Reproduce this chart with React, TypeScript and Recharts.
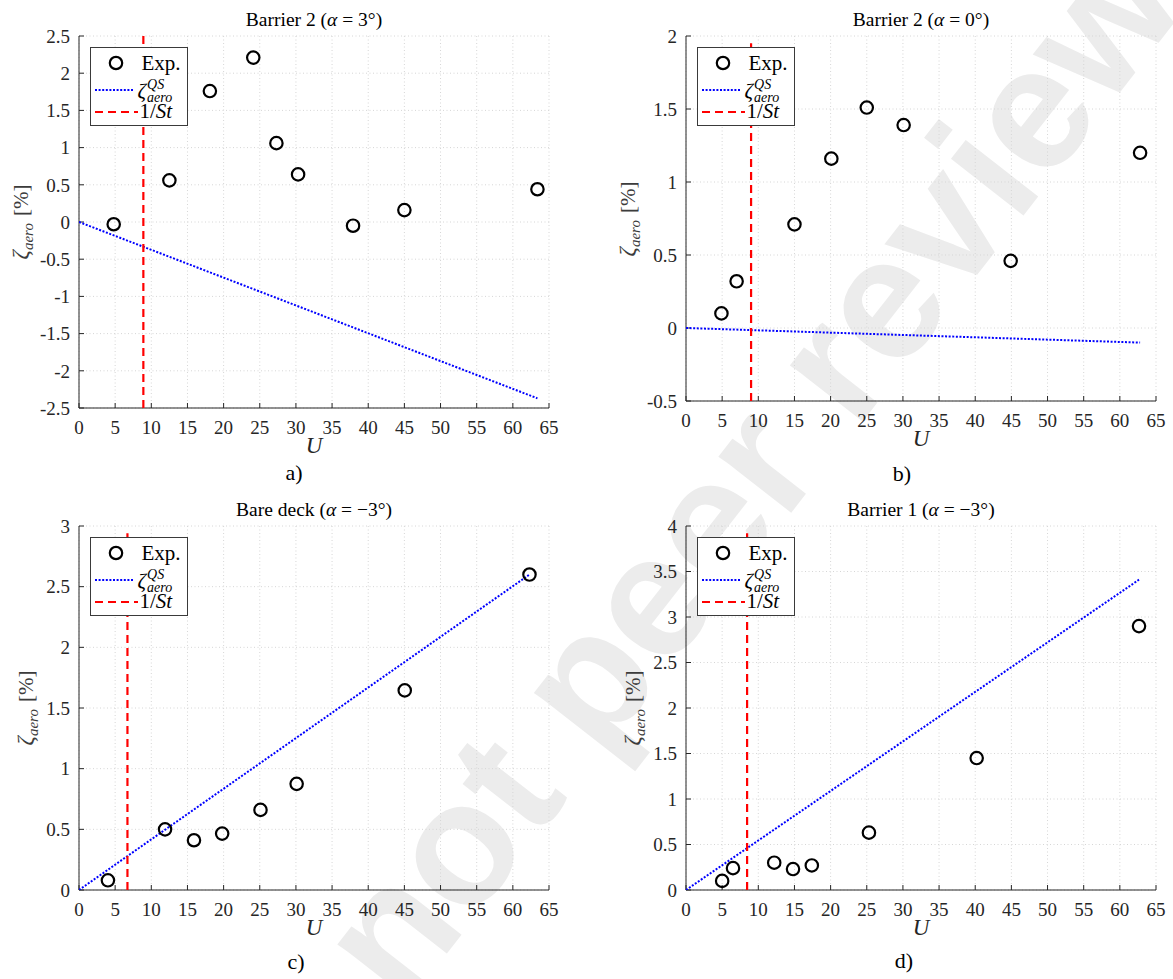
import React from 'react';
import { ScatterChart, Scatter, XAxis, YAxis, CartesianGrid } from 'recharts';

type Pt = { x: number; y: number };

// ---------- DATA ----------
const xTicks = [0, 5, 10, 15, 20, 25, 30, 35, 40, 45, 50, 55, 60, 65];

// a) Barrier 2 (alpha = 3deg)
const expA: Pt[] = [
  { x: 4.8, y: -0.03 }, { x: 12.5, y: 0.56 }, { x: 18.1, y: 1.76 }, { x: 24.1, y: 2.21 },
  { x: 27.3, y: 1.06 }, { x: 30.3, y: 0.64 }, { x: 37.9, y: -0.05 }, { x: 45.0, y: 0.16 },
  { x: 63.4, y: 0.44 },
];
const qsA: Pt[] = [{ x: 0, y: 0 }, { x: 63.4, y: -2.37 }];
const stA: Pt[] = [{ x: 8.9, y: -2.5 }, { x: 8.9, y: 2.5 }];
const yTicksA = [-2.5, -2, -1.5, -1, -0.5, 0, 0.5, 1, 1.5, 2, 2.5];

// b) Barrier 2 (alpha = 0deg)
const expB: Pt[] = [
  { x: 4.9, y: 0.1 }, { x: 7.0, y: 0.32 }, { x: 15.0, y: 0.71 }, { x: 20.1, y: 1.16 },
  { x: 25.0, y: 1.51 }, { x: 30.1, y: 1.39 }, { x: 44.9, y: 0.46 }, { x: 62.8, y: 1.2 },
];
const qsB: Pt[] = [{ x: 0, y: 0 }, { x: 62.8, y: -0.1 }];
const stB: Pt[] = [{ x: 9.0, y: -0.5 }, { x: 9.0, y: 1.95 }];
const yTicksB = [-0.5, 0, 0.5, 1, 1.5, 2];

// c) Bare deck (alpha = -3deg)
const expC: Pt[] = [
  { x: 4.0, y: 0.08 }, { x: 11.9, y: 0.5 }, { x: 15.9, y: 0.41 }, { x: 19.8, y: 0.465 },
  { x: 25.1, y: 0.66 }, { x: 30.1, y: 0.875 }, { x: 45.05, y: 1.645 }, { x: 62.3, y: 2.6 },
];
const qsC: Pt[] = [{ x: 0, y: 0 }, { x: 62.3, y: 2.6 }];
const stC: Pt[] = [{ x: 6.7, y: 0 }, { x: 6.7, y: 2.94 }];
const yTicksC = [0, 0.5, 1, 1.5, 2, 2.5, 3];

// d) Barrier 1 (alpha = -3deg)
const expD: Pt[] = [
  { x: 5.0, y: 0.1 }, { x: 6.5, y: 0.24 }, { x: 12.2, y: 0.3 }, { x: 14.8, y: 0.23 },
  { x: 17.4, y: 0.27 }, { x: 25.3, y: 0.63 }, { x: 40.2, y: 1.45 }, { x: 62.65, y: 2.9 },
];
const qsD: Pt[] = [{ x: 0, y: 0 }, { x: 62.65, y: 3.41 }];
const stD: Pt[] = [{ x: 8.45, y: 0 }, { x: 8.45, y: 3.92 }];
const yTicksD = [0, 0.5, 1, 1.5, 2, 2.5, 3, 3.5, 4];

// ---------- STYLE ----------
const FONT = '"Liberation Serif", "DejaVu Serif", serif';
const AX = '#262626';
const TICK_FONT = 19;

const Marker = (props: any) => {
  if (props.cx == null || props.cy == null) return <g />;
  return <circle cx={props.cx} cy={props.cy} r={6.2} fill="none" stroke="#000" strokeWidth={2.2} />;
};
const NoShape = () => <g />;

const ZetaQS: React.FC = () => (
  <span style={{ whiteSpace: 'nowrap', display: 'inline-flex', alignItems: 'center' }}>
    <span style={{ fontStyle: 'italic', fontSize: 21 }}>ζ</span>
    <span
      style={{
        display: 'inline-flex', flexDirection: 'column', fontStyle: 'italic',
        fontSize: 14, lineHeight: '13px', marginLeft: 1,
      }}
    >
      <span>QS</span>
      <span>aero</span>
    </span>
  </span>
);

const LegendBox: React.FC<{ x: number; y: number }> = ({ x, y }) => (
  <div
    style={{
      position: 'absolute', left: x, top: y, width: 98, height: 79, boxSizing: 'border-box',
      border: '1.3px solid #3a3a3a', background: '#fff', fontFamily: FONT, color: '#000',
    }}
  >
    <svg width={98} height={79} style={{ position: 'absolute', left: -1, top: -1 }}>
      <circle cx={26} cy={16} r={6.2} fill="none" stroke="#000" strokeWidth={2.2} />
      <line x1={5} x2={44} y1={43} y2={43} stroke="#0000ff" strokeWidth={2} strokeDasharray="2 1.6" />
      <line x1={5} x2={48} y1={65} y2={65} stroke="#ff0000" strokeWidth={2.2} strokeDasharray="8 5" />
    </svg>
    <div style={{ position: 'absolute', left: 51, top: 3, fontSize: 21, lineHeight: '24px' }}>Exp.</div>
    <div style={{ position: 'absolute', left: 47, top: 29, height: 28, display: 'flex', alignItems: 'center' }}>
      <ZetaQS />
    </div>
    <div style={{ position: 'absolute', left: 49, top: 51, fontSize: 21, lineHeight: '24px' }}>
      1/<span style={{ fontStyle: 'italic' }}>St</span>
    </div>
  </div>
);

interface PanelCfg {
  left: number; top: number; width: number; height: number;
  pl: number; pr: number; pt: number; pb: number;
  exp: Pt[]; qs: Pt[]; st: Pt[];
  yDomain: [number, number]; yTicks: number[];
  title: React.ReactNode; sub: string; subX: number; subY: number; ylabX: number;
}

const Panel: React.FC<{ c: PanelCfg }> = ({ c }) => {
  const cx = c.left + (c.pl + c.pr) / 2;
  const cy = c.top + (c.pt + c.pb) / 2;
  const tickStyle = { fill: AX, fontSize: TICK_FONT, fontFamily: FONT };
  return (
    <>
      <div style={{ position: 'absolute', left: c.left, top: c.top, width: c.width, height: c.height }}>
        <ScatterChart
          width={c.width}
          height={c.height}
          margin={{ top: c.pt, right: c.width - c.pr, bottom: 0, left: 0 }}
        >
          <CartesianGrid stroke="#d6d6d6" strokeDasharray="1 2.5" strokeWidth={1} />
          <XAxis
            xAxisId="top" orientation="top" type="number" dataKey="x" domain={[0, 65]}
            ticks={xTicks} allowDataOverflow height={0} tick={false} tickSize={-5} interval={0}
            axisLine={{ stroke: AX }} tickLine={{ stroke: AX }}
          />
          <YAxis
            yAxisId="right" orientation="right" type="number" dataKey="y" domain={c.yDomain}
            ticks={c.yTicks} allowDataOverflow width={0} tick={false} tickSize={-5} interval={0}
            axisLine={{ stroke: AX }} tickLine={{ stroke: AX }}
          />
          <XAxis
            type="number" dataKey="x" domain={[0, 65]} ticks={xTicks} allowDataOverflow
            height={c.height - c.pb} tickSize={-5} tickMargin={18} interval={0}
            axisLine={{ stroke: AX }} tickLine={{ stroke: AX }} tick={tickStyle}
          />
          <YAxis
            type="number" dataKey="y" domain={c.yDomain} ticks={c.yTicks} allowDataOverflow
            width={c.pl} tickSize={-5} tickMargin={14} interval={0}
            axisLine={{ stroke: AX }} tickLine={{ stroke: AX }} tick={tickStyle}
          />
          <Scatter
            data={c.qs} shape={NoShape} isAnimationActive={false}
            line={{ stroke: '#0000ff', strokeWidth: 2, strokeDasharray: '2 1.6' }}
          />
          <Scatter
            data={c.st} shape={NoShape} isAnimationActive={false}
            line={{ stroke: '#ff0000', strokeWidth: 2.2, strokeDasharray: '8 5' }}
          />
          <Scatter data={c.exp} shape={Marker} isAnimationActive={false} />
        </ScatterChart>
      </div>
      <LegendBox x={c.left + c.pl + 10.5} y={c.top + c.pt + 11} />
      <div
        style={{
          position: 'absolute', left: cx, top: c.top + 20, transform: 'translate(-50%, -50%)',
          fontFamily: FONT, fontSize: 19.5, color: '#000', whiteSpace: 'pre',
        }}
      >
        {c.title}
      </div>
      <div
        style={{
          position: 'absolute', left: cx, top: c.top + c.pb + 38, transform: 'translate(-50%, -50%)',
          fontFamily: FONT, fontSize: 23, fontStyle: 'italic', color: AX,
        }}
      >
        U
      </div>
      <div
        style={{
          position: 'absolute', left: c.ylabX, top: cy, transform: 'translate(-50%, -50%) rotate(-90deg)',
          fontFamily: FONT, color: '#3c3c3c', whiteSpace: 'nowrap', display: 'flex', alignItems: 'baseline',
        }}
      >
        <span style={{ fontStyle: 'italic', fontSize: 23 }}>ζ</span>
        <span style={{ fontStyle: 'italic', fontSize: 15, position: 'relative', top: 5 }}>aero</span>
        <span style={{ fontSize: 21, marginLeft: 7 }}>[%]</span>
      </div>
      <div
        style={{
          position: 'absolute', left: c.subX, top: c.subY, transform: 'translate(-50%, -50%)',
          fontFamily: FONT, fontSize: 22, color: '#000',
        }}
      >
        {c.sub}
      </div>
    </>
  );
};

const A = <i>α</i>;
const panels: PanelCfg[] = [
  {
    left: 0, top: 0, width: 590, height: 480, pl: 79, pr: 549, pt: 36, pb: 408,
    exp: expA, qs: qsA, st: stA, yDomain: [-2.5, 2.5], yTicks: yTicksA,
    title: <>Barrier 2 ({A} = 3°)</>, sub: 'a)', subX: 294, subY: 473, ylabX: 21,
  },
  {
    left: 590, top: 0, width: 583, height: 480, pl: 96, pr: 566, pt: 36, pb: 401,
    exp: expB, qs: qsB, st: stB, yDomain: [-0.5, 2], yTicks: yTicksB,
    title: <>Barrier 2 ({A} = 0°)</>, sub: 'b)', subX: 902, subY: 474, ylabX: 628,
  },
  {
    left: 0, top: 490, width: 590, height: 489, pl: 79, pr: 549, pt: 36, pb: 400,
    exp: expC, qs: qsC, st: stC, yDomain: [0, 3], yTicks: yTicksC,
    title: <>Bare deck ({A} = −3°)</>, sub: 'c)', subX: 296, subY: 962, ylabX: 26,
  },
  {
    left: 590, top: 490, width: 583, height: 489, pl: 96, pr: 566, pt: 36, pb: 400,
    exp: expD, qs: qsD, st: stD, yDomain: [0, 4], yTicks: yTicksD,
    title: <>Barrier 1 ({A} = −3°)</>, sub: 'd)', subX: 904, subY: 961, ylabX: 633,
  },
];

export default function App() {
  return (
    <div
      style={{
        position: 'absolute', left: 0, top: 0, width: 1173, height: 979, background: '#fff',
        overflow: 'hidden',
      }}
    >
      <div
        style={{
          position: 'absolute', left: 811, top: 390, transform: 'translate(-50%, -50%) rotate(-52deg)',
          fontFamily: '"Liberation Sans", Arial, sans-serif', fontSize: 174, fontWeight: 700,
          color: '#ececec', whiteSpace: 'nowrap', lineHeight: 1,
        }}
      >
        not peer reviewed
      </div>
      {panels.map((p, i) => (
        <Panel key={i} c={p} />
      ))}
    </div>
  );
}
